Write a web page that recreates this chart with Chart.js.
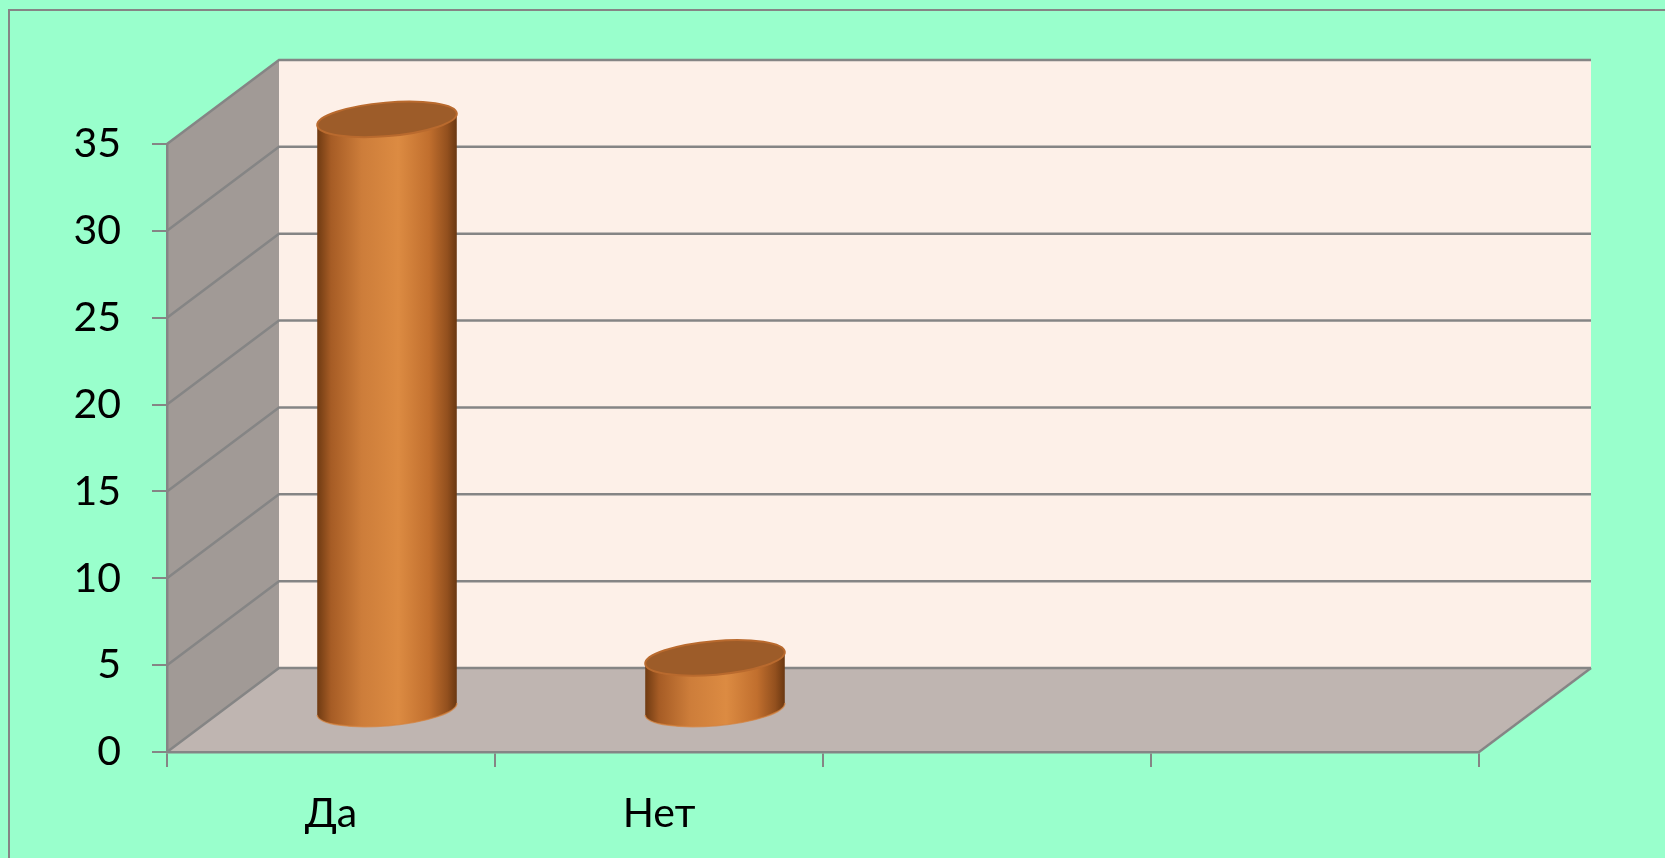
<!DOCTYPE html>
<html lang="ru">
<head>
<meta charset="UTF-8">
<title>Да / Нет</title>
<script src="https://cdn.jsdelivr.net/npm/chart.js@4.4.0/dist/chart.umd.min.js"></script>
<style>
  html, body { margin: 0; padding: 0; background: #99ffcc; overflow: hidden; }
  canvas { display: block; }
</style>
</head>
<body>
<canvas id="answers" width="1665" height="858"></canvas>
<script>
// categories on the x axis (the last two slots are empty in the original)
const categories = ['Да', 'Нет', '', ''];
// number of answers per category
const answers = [34, 3];
// value axis
const yMin = 0;
const yMax = 35;
const yStep = 5;

// depth of the fake 3D box, px
const DEPTH_X = 112;
const DEPTH_Y = 84;
const LINE = '#858585';
const FONT = 'Lato, "Noto Sans", sans-serif';

function poly(ctx, pts, fill) {
    ctx.beginPath();
    ctx.moveTo(pts[0][0], pts[0][1]);
    for (let i = 1; i < pts.length; i++) ctx.lineTo(pts[i][0], pts[i][1]);
    ctx.closePath();
    ctx.fillStyle = fill;
    ctx.fill();
}

// draws walls, floor and grid behind the axes, then cylinders on top of the bars
const box3d = {
    id: 'box3d',
    beforeDraw(chart) {
        const ctx = chart.ctx;
        const a = chart.chartArea;
        const y = chart.scales.y;
        const top = y.getPixelForValue(yMax);
        const bottom = y.getPixelForValue(yMin);
        ctx.save();
        ctx.fillStyle = '#99ffcc';
        ctx.fillRect(0, 0, chart.width, chart.height);
        ctx.strokeStyle = LINE;
        ctx.lineWidth = 2;
        ctx.strokeRect(9, 10, chart.width + 40, chart.height + 40);

        // back wall
        ctx.fillStyle = '#fdf0e8';
        ctx.fillRect(a.left + DEPTH_X, top - DEPTH_Y, a.right - a.left, bottom - top);
        // side wall
        poly(ctx, [[a.left, top], [a.left + DEPTH_X, top - DEPTH_Y],
                   [a.left + DEPTH_X, bottom - DEPTH_Y], [a.left, bottom]], '#a19a96');
        // floor
        poly(ctx, [[a.left, bottom], [a.right, bottom],
                   [a.right + DEPTH_X, bottom - DEPTH_Y], [a.left + DEPTH_X, bottom - DEPTH_Y]], '#bfb5b1');

        ctx.strokeStyle = LINE;
        ctx.lineWidth = 2.5;
        y.ticks.forEach(t => {
            const py = y.getPixelForValue(t.value);
            ctx.beginPath();
            ctx.moveTo(a.left, py);
            ctx.lineTo(a.left + DEPTH_X, py - DEPTH_Y);
            ctx.lineTo(a.right + DEPTH_X, py - DEPTH_Y);
            ctx.stroke();
        });
        ctx.beginPath();
        ctx.moveTo(a.right, bottom);
        ctx.lineTo(a.right + DEPTH_X, bottom - DEPTH_Y);
        ctx.stroke();
        ctx.restore();
    },
    afterDatasetsDraw(chart) {
        const ctx = chart.ctx;
        chart.getDatasetMeta(0).data.forEach(bar => {
            if (isNaN(bar.y) || isNaN(bar.base)) return;
            const cx = bar.x + DEPTH_X / 2;
            const yTop = bar.y - DEPTH_Y / 2;
            const yBase = bar.base - DEPTH_Y / 2;
            const rx = bar.width / 2;
            const ry = rx * 0.24;
            const tilt = -0.085;
            const ex = rx * Math.cos(tilt);
            const ey = rx * Math.sin(tilt);

            const g = ctx.createLinearGradient(cx - rx, 0, cx + rx, 0);
            g.addColorStop(0, '#6e3a12');
            g.addColorStop(0.1, '#a65c25');
            g.addColorStop(0.32, '#cd7d3a');
            g.addColorStop(0.58, '#dc8b42');
            g.addColorStop(0.8, '#c16f2e');
            g.addColorStop(0.93, '#93501e');
            g.addColorStop(1, '#693711');

            ctx.save();
            // body
            ctx.beginPath();
            ctx.moveTo(cx - ex, yTop - ey);
            ctx.lineTo(cx - ex, yBase - ey);
            ctx.ellipse(cx, yBase, rx, ry, tilt, Math.PI, 0, true);
            ctx.lineTo(cx + ex, yTop + ey);
            ctx.ellipse(cx, yTop, rx, ry, tilt, 0, Math.PI, false);
            ctx.closePath();
            ctx.fillStyle = g;
            ctx.fill();
            // bottom rim
            ctx.beginPath();
            ctx.ellipse(cx, yBase, rx, ry, tilt, Math.PI, 0, true);
            ctx.strokeStyle = 'rgba(214,130,60,0.7)';
            ctx.lineWidth = 1.5;
            ctx.stroke();
            // top cap
            ctx.beginPath();
            ctx.ellipse(cx, yTop, rx, ry, tilt, 0, Math.PI * 2);
            ctx.fillStyle = '#9d5c29';
            ctx.fill();
            ctx.strokeStyle = '#b96a2e';
            ctx.lineWidth = 2;
            ctx.stroke();
            ctx.restore();
        });
    }
};

new Chart(document.getElementById('answers'), {
    type: 'bar',
    data: {
        labels: categories,
        datasets: [{
            data: answers,
            backgroundColor: 'rgba(0,0,0,0)',
            borderWidth: 0,
            categoryPercentage: 1,
            barPercentage: 0.427
        }]
    },
    options: {
        responsive: false,
        animation: false,
        layout: { padding: { top: 144, right: 186, bottom: 0, left: 0 } },
        plugins: {
            legend: { display: false },
            tooltip: { enabled: false }
        },
        scales: {
            x: {
                offset: true,
                grid: { offset: true, drawOnChartArea: false, tickLength: 15, color: LINE, lineWidth: 2 },
                border: { display: true, color: LINE, width: 2.5 },
                ticks: { color: '#000', font: { family: FONT, size: 41 }, padding: 22, maxRotation: 0, autoSkip: false },
                afterFit(s) { s.height = 106; }
            },
            y: {
                min: yMin,
                max: yMax,
                grid: { drawOnChartArea: false, tickLength: 15, color: LINE, lineWidth: 2 },
                border: { display: true, color: LINE, width: 2.5 },
                ticks: { stepSize: yStep, color: '#000', font: { family: FONT, size: 41 }, padding: 31 },
                afterFit(s) { s.width = 167; }
            }
        }
    },
    plugins: [box3d]
});
</script>
</body>
</html>
